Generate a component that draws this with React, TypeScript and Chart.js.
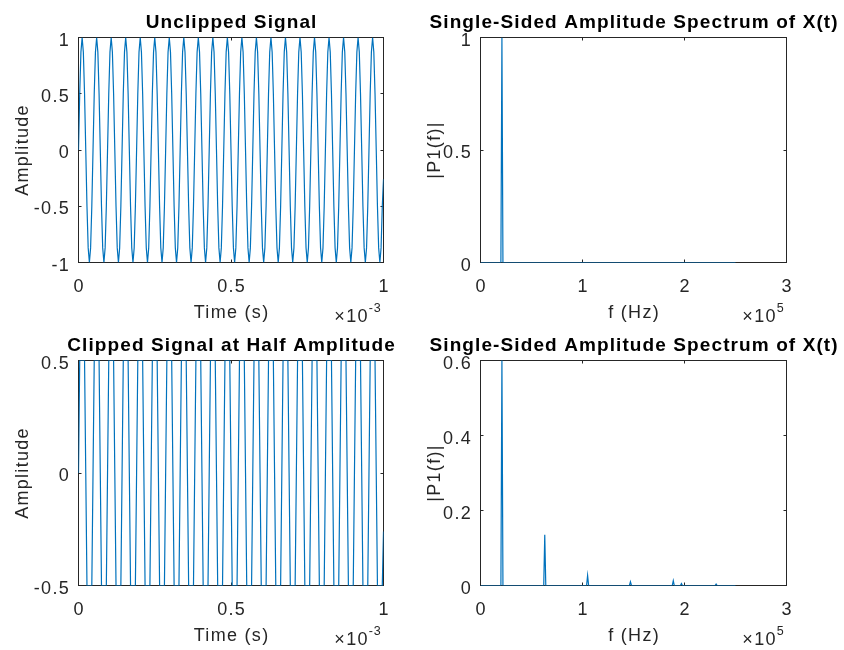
import React, { useEffect, useRef } from "react";
import { Chart, registerables } from "chart.js";

Chart.register(...registerables);

const FONT_FAMILY = '"Liberation Sans", Arial, Helvetica, sans-serif';
const AXIS_COLOR = "#262626";
const TITLE_COLOR = "#000000";
const LINE_COLOR = "#0072BD";

// ---- Time-domain signals (21 cycles in 1 ms, one sample every 30 degrees of phase) ----
const SIGNAL_SAMPLE_STEP_MS = 1 / 252;

const UNCLIPPED_SIGNAL: number[] = [
  0, 0.5, 0.87, 1, 0.87, 0.5, 0, -0.5, -0.87, -1, -0.87, -0.5,
  0, 0.5, 0.87, 1, 0.87, 0.5, 0, -0.5, -0.87, -1, -0.87, -0.5,
  0, 0.5, 0.87, 1, 0.87, 0.5, 0, -0.5, -0.87, -1, -0.87, -0.5,
  0, 0.5, 0.87, 1, 0.87, 0.5, 0, -0.5, -0.87, -1, -0.87, -0.5,
  0, 0.5, 0.87, 1, 0.87, 0.5, 0, -0.5, -0.87, -1, -0.87, -0.5,
  0, 0.5, 0.87, 1, 0.87, 0.5, 0, -0.5, -0.87, -1, -0.87, -0.5,
  0, 0.5, 0.87, 1, 0.87, 0.5, 0, -0.5, -0.87, -1, -0.87, -0.5,
  0, 0.5, 0.87, 1, 0.87, 0.5, 0, -0.5, -0.87, -1, -0.87, -0.5,
  0, 0.5, 0.87, 1, 0.87, 0.5, 0, -0.5, -0.87, -1, -0.87, -0.5,
  0, 0.5, 0.87, 1, 0.87, 0.5, 0, -0.5, -0.87, -1, -0.87, -0.5,
  0, 0.5, 0.87, 1, 0.87, 0.5, 0, -0.5, -0.87, -1, -0.87, -0.5,
  0, 0.5, 0.87, 1, 0.87, 0.5, 0, -0.5, -0.87, -1, -0.87, -0.5,
  0, 0.5, 0.87, 1, 0.87, 0.5, 0, -0.5, -0.87, -1, -0.87, -0.5,
  0, 0.5, 0.87, 1, 0.87, 0.5, 0, -0.5, -0.87, -1, -0.87, -0.5,
  0, 0.5, 0.87, 1, 0.87, 0.5, 0, -0.5, -0.87, -1, -0.87, -0.5,
  0, 0.5, 0.87, 1, 0.87, 0.5, 0, -0.5, -0.87, -1, -0.87, -0.5,
  0, 0.5, 0.87, 1, 0.87, 0.5, 0, -0.5, -0.87, -1, -0.87, -0.5,
  0, 0.5, 0.87, 1, 0.87, 0.5, 0, -0.5, -0.87, -1, -0.87, -0.5,
  0, 0.5, 0.87, 1, 0.87, 0.5, 0, -0.5, -0.87, -1, -0.87, -0.5,
  0, 0.5, 0.87, 1, 0.87, 0.5, 0, -0.5, -0.87, -1, -0.87, -0.5,
  0, 0.5, 0.87, 1, 0.87, 0.5, 0, -0.5, -0.87, -1, -0.87, -0.5,
  -0.26,
];

const CLIPPED_SIGNAL: number[] = [
  0, 0.5, 0.5, 0.5, 0.5, 0.5, 0, -0.5, -0.5, -0.5, -0.5, -0.5,
  0, 0.5, 0.5, 0.5, 0.5, 0.5, 0, -0.5, -0.5, -0.5, -0.5, -0.5,
  0, 0.5, 0.5, 0.5, 0.5, 0.5, 0, -0.5, -0.5, -0.5, -0.5, -0.5,
  0, 0.5, 0.5, 0.5, 0.5, 0.5, 0, -0.5, -0.5, -0.5, -0.5, -0.5,
  0, 0.5, 0.5, 0.5, 0.5, 0.5, 0, -0.5, -0.5, -0.5, -0.5, -0.5,
  0, 0.5, 0.5, 0.5, 0.5, 0.5, 0, -0.5, -0.5, -0.5, -0.5, -0.5,
  0, 0.5, 0.5, 0.5, 0.5, 0.5, 0, -0.5, -0.5, -0.5, -0.5, -0.5,
  0, 0.5, 0.5, 0.5, 0.5, 0.5, 0, -0.5, -0.5, -0.5, -0.5, -0.5,
  0, 0.5, 0.5, 0.5, 0.5, 0.5, 0, -0.5, -0.5, -0.5, -0.5, -0.5,
  0, 0.5, 0.5, 0.5, 0.5, 0.5, 0, -0.5, -0.5, -0.5, -0.5, -0.5,
  0, 0.5, 0.5, 0.5, 0.5, 0.5, 0, -0.5, -0.5, -0.5, -0.5, -0.5,
  0, 0.5, 0.5, 0.5, 0.5, 0.5, 0, -0.5, -0.5, -0.5, -0.5, -0.5,
  0, 0.5, 0.5, 0.5, 0.5, 0.5, 0, -0.5, -0.5, -0.5, -0.5, -0.5,
  0, 0.5, 0.5, 0.5, 0.5, 0.5, 0, -0.5, -0.5, -0.5, -0.5, -0.5,
  0, 0.5, 0.5, 0.5, 0.5, 0.5, 0, -0.5, -0.5, -0.5, -0.5, -0.5,
  0, 0.5, 0.5, 0.5, 0.5, 0.5, 0, -0.5, -0.5, -0.5, -0.5, -0.5,
  0, 0.5, 0.5, 0.5, 0.5, 0.5, 0, -0.5, -0.5, -0.5, -0.5, -0.5,
  0, 0.5, 0.5, 0.5, 0.5, 0.5, 0, -0.5, -0.5, -0.5, -0.5, -0.5,
  0, 0.5, 0.5, 0.5, 0.5, 0.5, 0, -0.5, -0.5, -0.5, -0.5, -0.5,
  0, 0.5, 0.5, 0.5, 0.5, 0.5, 0, -0.5, -0.5, -0.5, -0.5, -0.5,
  0, 0.5, 0.5, 0.5, 0.5, 0.5, 0, -0.5, -0.5, -0.5, -0.5, -0.5,
  -0.26,
];

// ---- Single-sided amplitude spectra ----
const UNCLIPPED_SPEC_HZ = [0, 20000, 21000, 22000, 250000];
const UNCLIPPED_SPEC_P1 = [0, 0, 1, 0, 0];

const CLIPPED_SPEC_HZ = [
  0, 20000, 21000, 22000, 62000, 63000, 64000, 104000, 105000, 106000,
  146000, 147000, 148000, 188000, 189000, 190000, 196000, 197000, 198000,
  230000, 231000, 232000, 250000,
];
const CLIPPED_SPEC_P1 = [
  0, 0, 0.605, 0, 0, 0.135, 0, 0, 0.027, 0,
  0, 0.01, 0, 0, 0.013, 0, 0, 0.005, 0,
  0, 0.004, 0, 0,
];

// ---- Axis ticks ----
const TIME_TICKS_MS = [0, 0.5, 1];
const FREQ_TICKS_HZ = [0, 100000, 200000, 300000];
const UNCLIPPED_Y_TICKS = [-1, -0.5, 0, 0.5, 1];
const CLIPPED_Y_TICKS = [-0.5, 0, 0.5];
const SPEC1_Y_TICKS = [0, 0.5, 1];
const SPEC2_Y_TICKS = [0, 0.2, 0.4, 0.6];

// ---- Text ----
const TITLES = [
  "Unclipped Signal",
  "Single-Sided Amplitude Spectrum of X(t)",
  "Clipped Signal at Half Amplitude",
  "Single-Sided Amplitude Spectrum of X(t)",
];
const TIME_LABEL = "Time (s)";
const FREQ_LABEL = "f (Hz)";
const AMP_LABEL = "Amplitude";
const SPEC_LABEL = "|P1(f)|";
const TIME_EXPONENT = "-3";
const FREQ_EXPONENT = "5";

const CANVAS_W = 422;
const CANVAS_H = 325;

type Pt = { x: number; y: number };
type Panel = {
  canvasLeft: number;
  canvasTop: number;
  area: { l: number; r: number; t: number; b: number };
  points: Pt[];
  xMin: number;
  xMax: number;
  yMin: number;
  yMax: number;
  xTicks: number[];
  yTicks: number[];
  xScaleDiv: number;
  title: string;
  xLabel: string;
  yLabel: string;
  exponent: string;
  yLabelOffset: number;
};

const fmt = (v: number) => String(parseFloat(v.toFixed(4)));

const signalPoints = (vals: number[]) =>
  vals.map((y, i) => ({ x: i * SIGNAL_SAMPLE_STEP_MS, y }));
const specPoints = (hz: number[], p: number[]) =>
  hz.map((x, i) => ({ x, y: p[i] }));

const PANELS: Panel[] = [
  {
    canvasLeft: 0,
    canvasTop: 0,
    area: { l: 78.5, r: 383.5, t: 37.5, b: 262.5 },
    points: signalPoints(UNCLIPPED_SIGNAL),
    xMin: 0,
    xMax: 1,
    yMin: -1,
    yMax: 1,
    xTicks: TIME_TICKS_MS,
    yTicks: UNCLIPPED_Y_TICKS,
    xScaleDiv: 1,
    title: TITLES[0],
    xLabel: TIME_LABEL,
    yLabel: AMP_LABEL,
    exponent: TIME_EXPONENT,
    yLabelOffset: 50.5,
  },
  {
    canvasLeft: 422,
    canvasTop: 0,
    area: { l: 58.5, r: 364.5, t: 37.5, b: 262.5 },
    points: specPoints(UNCLIPPED_SPEC_HZ, UNCLIPPED_SPEC_P1),
    xMin: 0,
    xMax: 300000,
    yMin: 0,
    yMax: 1,
    xTicks: FREQ_TICKS_HZ,
    yTicks: SPEC1_Y_TICKS,
    xScaleDiv: 100000,
    title: TITLES[1],
    xLabel: FREQ_LABEL,
    yLabel: SPEC_LABEL,
    exponent: FREQ_EXPONENT,
    yLabelOffset: 41,
  },
  {
    canvasLeft: 0,
    canvasTop: 325,
    area: { l: 78.5, r: 383.5, t: 35.5, b: 260.5 },
    points: signalPoints(CLIPPED_SIGNAL),
    xMin: 0,
    xMax: 1,
    yMin: -0.5,
    yMax: 0.5,
    xTicks: TIME_TICKS_MS,
    yTicks: CLIPPED_Y_TICKS,
    xScaleDiv: 1,
    title: TITLES[2],
    xLabel: TIME_LABEL,
    yLabel: AMP_LABEL,
    exponent: TIME_EXPONENT,
    yLabelOffset: 50.5,
  },
  {
    canvasLeft: 422,
    canvasTop: 325,
    area: { l: 58.5, r: 364.5, t: 35.5, b: 260.5 },
    points: specPoints(CLIPPED_SPEC_HZ, CLIPPED_SPEC_P1),
    xMin: 0,
    xMax: 300000,
    yMin: 0,
    yMax: 0.6,
    xTicks: FREQ_TICKS_HZ,
    yTicks: SPEC2_Y_TICKS,
    xScaleDiv: 100000,
    title: TITLES[3],
    xLabel: FREQ_LABEL,
    yLabel: SPEC_LABEL,
    exponent: FREQ_EXPONENT,
    yLabelOffset: 41,
  },
];

function makeAxesPlugin(p: Panel) {
  return {
    id: "matlabAxes",
    beforeDatasetsDraw(chart: any) {
      const { ctx, chartArea: a, scales } = chart;
      ctx.save();
      ctx.strokeStyle = AXIS_COLOR;
      ctx.lineWidth = 1;
      ctx.strokeRect(a.left, a.top, a.right - a.left, a.bottom - a.top);
      ctx.beginPath();
      const tl = 3;
      for (const v of p.xTicks) {
        const px = Math.floor(scales.x.getPixelForValue(v)) + 0.5;
        ctx.moveTo(px, a.bottom);
        ctx.lineTo(px, a.bottom - tl);
        ctx.moveTo(px, a.top);
        ctx.lineTo(px, a.top + tl);
      }
      for (const v of p.yTicks) {
        const py = Math.floor(scales.y.getPixelForValue(v)) + 0.5;
        ctx.moveTo(a.left, py);
        ctx.lineTo(a.left + tl, py);
        ctx.moveTo(a.right, py);
        ctx.lineTo(a.right - tl, py);
      }
      ctx.stroke();
      ctx.restore();
    },
    afterDraw(chart: any) {
      const { ctx, chartArea: a, scales } = chart;
      ctx.save();
      ctx.fillStyle = AXIS_COLOR;
      ctx.font = `18px ${FONT_FAMILY}`;
      ctx.letterSpacing = "1.3px";
      ctx.textBaseline = "alphabetic";
      // x tick labels
      ctx.textAlign = "center";
      for (const v of p.xTicks) {
        ctx.fillText(fmt(v / p.xScaleDiv), scales.x.getPixelForValue(v) + 0.6, a.bottom + 29);
      }
      // y tick labels
      ctx.textAlign = "right";
      for (const v of p.yTicks) {
        ctx.fillText(fmt(v), a.left - 8.5, scales.y.getPixelForValue(v) + 8.2);
      }
      // x label
      ctx.textAlign = "center";
      ctx.fillText(p.xLabel, (a.left + a.right) / 2 + 0.6, a.bottom + 55);
      // exponent
      const base = "\u00D710";
      ctx.font = `12.5px ${FONT_FAMILY}`;
      ctx.letterSpacing = "0.8px";
      const wSup = ctx.measureText(p.exponent).width;
      ctx.font = `18px ${FONT_FAMILY}`;
      ctx.letterSpacing = "1.3px";
      const wBase = ctx.measureText(base).width;
      const right = a.right - 2;
      ctx.textAlign = "left";
      ctx.fillText(base, right - wSup - wBase, a.bottom + 59);
      ctx.font = `12.5px ${FONT_FAMILY}`;
      ctx.letterSpacing = "0.8px";
      ctx.fillText(p.exponent, right - wSup, a.bottom + 49);
      // y label
      ctx.font = `18px ${FONT_FAMILY}`;
      ctx.letterSpacing = "1.3px";
      ctx.save();
      ctx.translate(a.left - p.yLabelOffset, (a.top + a.bottom) / 2);
      ctx.rotate(-Math.PI / 2);
      ctx.textAlign = "center";
      ctx.fillText(p.yLabel, 0, 0);
      ctx.restore();
      // title
      ctx.fillStyle = TITLE_COLOR;
      ctx.font = `bold 19px ${FONT_FAMILY}`;
      ctx.letterSpacing = "1.1px";
      ctx.textAlign = "center";
      ctx.fillText(p.title, (a.left + a.right) / 2 + 0.6, a.top - 9.5);
      ctx.restore();
    },
  };
}

function Subplot({ panel }: { panel: Panel }) {
  const ref = useRef<HTMLCanvasElement>(null);
  useEffect(() => {
    const canvas = ref.current;
    if (!canvas) return;
    const a = panel.area;
    const chart = new Chart(canvas, {
      type: "line",
      data: {
        datasets: [
          {
            data: panel.points,
            borderColor: LINE_COLOR,
            borderWidth: 1.2,
            pointRadius: 0,
            fill: false,
            tension: 0,
          },
        ],
      },
      options: {
        animation: false,
        responsive: false,
        maintainAspectRatio: false,
        devicePixelRatio: 1,
        events: [],
        layout: {
          padding: {
            left: a.l,
            right: CANVAS_W - a.r,
            top: a.t,
            bottom: CANVAS_H - a.b,
          },
        },
        plugins: {
          legend: { display: false },
          tooltip: { enabled: false },
          title: { display: false },
        },
        scales: {
          x: { type: "linear", display: false, min: panel.xMin, max: panel.xMax },
          y: { type: "linear", display: false, min: panel.yMin, max: panel.yMax },
        },
      },
      plugins: [makeAxesPlugin(panel)],
    } as any);
    return () => chart.destroy();
  }, [panel]);
  return (
    <canvas
      ref={ref}
      width={CANVAS_W}
      height={CANVAS_H}
      style={{
        position: "absolute",
        left: panel.canvasLeft,
        top: panel.canvasTop,
        width: CANVAS_W,
        height: CANVAS_H,
      }}
    />
  );
}

export default function App() {
  return (
    <div
      style={{
        position: "absolute",
        left: 0,
        top: 0,
        width: 844,
        height: 650,
        background: "#ffffff",
        overflow: "hidden",
      }}
    >
      {PANELS.map((p, i) => (
        <Subplot key={i} panel={p} />
      ))}
    </div>
  );
}
